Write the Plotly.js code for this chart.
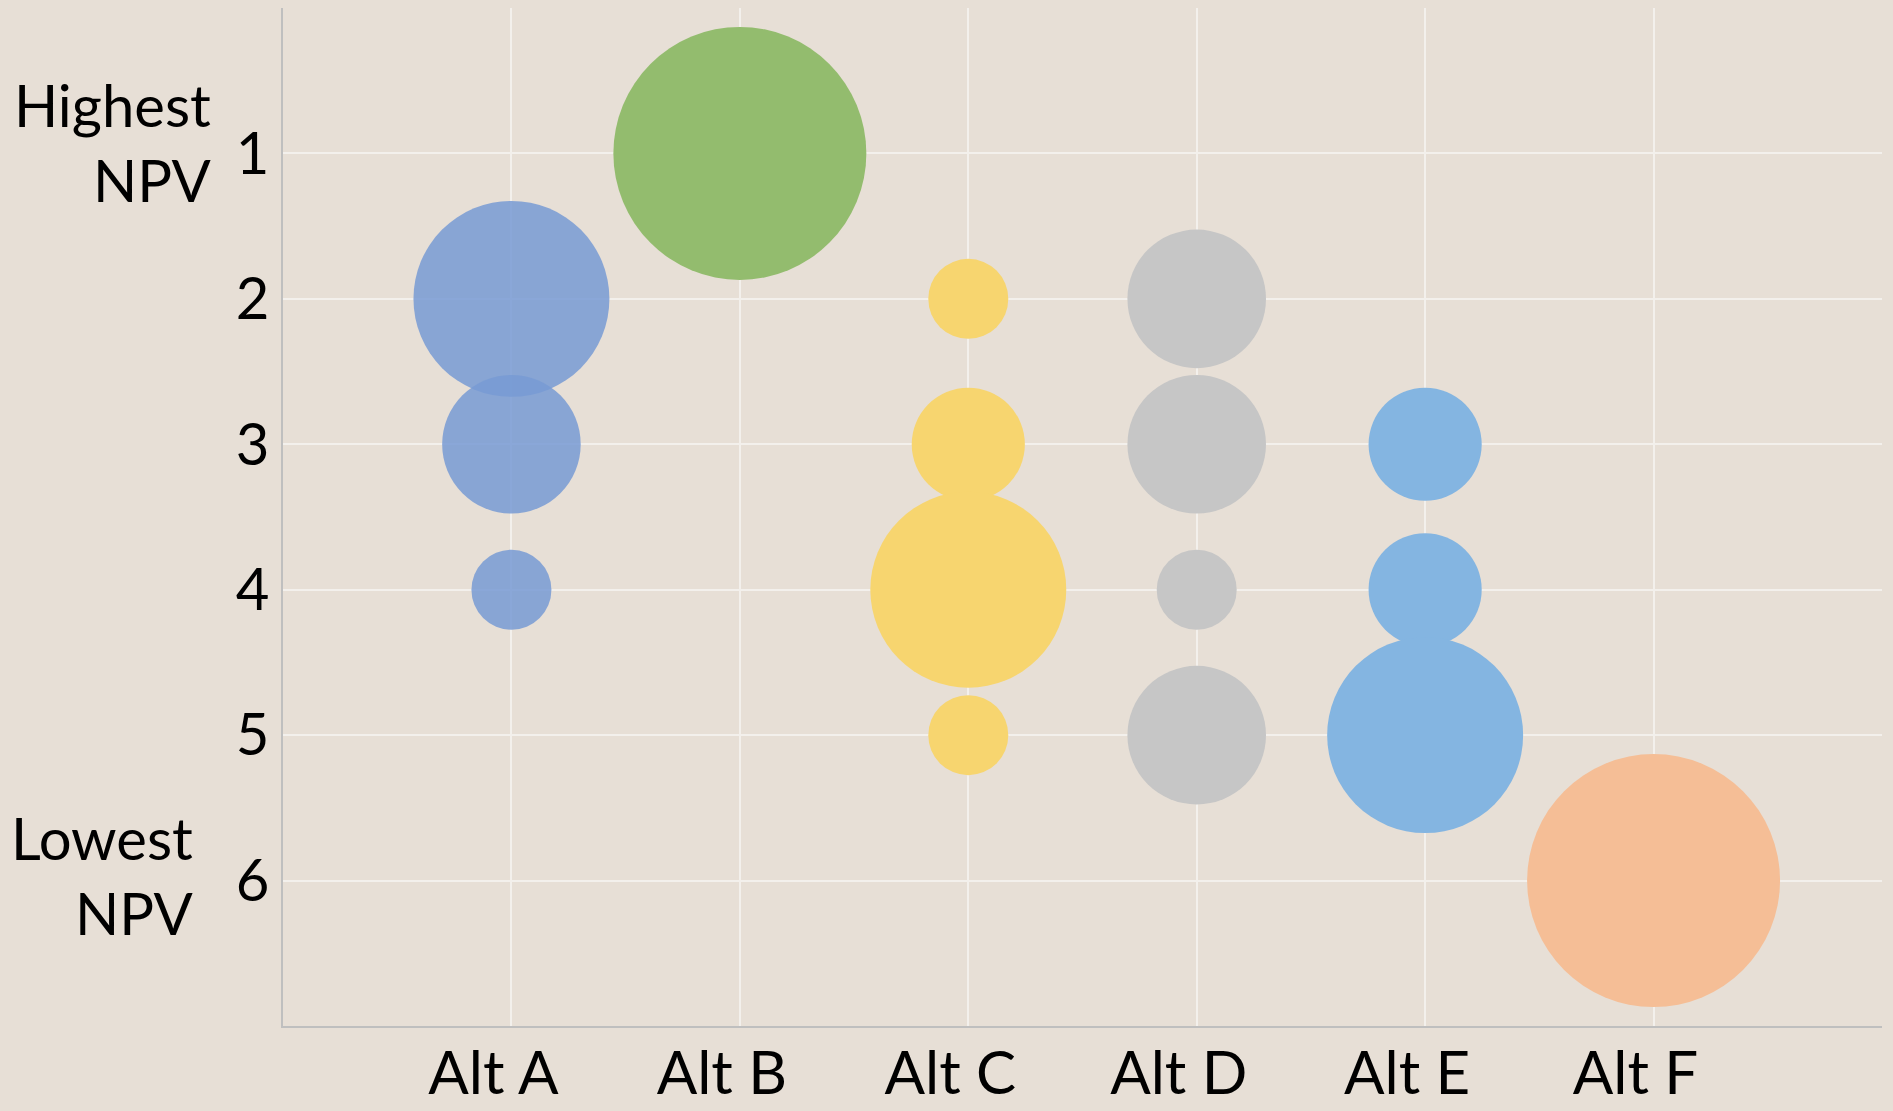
<!DOCTYPE html>
<html>
<head>
<meta charset="utf-8">
<script src="https://cdn.plot.ly/plotly-3.0.1.min.js"></script>
<style>
  html, body { margin: 0; padding: 0; background: #e7dfd6; }
  #chart { width: 1893px; height: 1111px; }
</style>
</head>
<body>
<div id="chart"></div>
<script>
// Categories (alternatives) and rank tick labels
const categories = ['Alt A', 'Alt B', 'Alt C', 'Alt D', 'Alt E', 'Alt F'];
const rankTicks = [1, 2, 3, 4, 5, 6];

// NPV rank of each bubble (1 = highest NPV) and relative bubble size, per alternative
const altA_rank = [2, 3, 4];
const altA_size = [6, 3, 1];
const altB_rank = [1];
const altB_size = [10];
const altC_rank = [2, 3, 4, 5];
const altC_size = [1, 2, 6, 1];
const altD_rank = [2, 3, 4, 5];
const altD_size = [3, 3, 1, 3];
const altE_rank = [3, 4, 5];
const altE_size = [2, 2, 6];
const altF_rank = [6];
const altF_size = [10];

const series = [
  { name: 'Alt A', rank: altA_rank, size: altA_size, color: 'rgba(120,155,212,0.86)' },
  { name: 'Alt B', rank: altB_rank, size: altB_size, color: '#93bc6e' },
  { name: 'Alt C', rank: altC_rank, size: altC_size, color: '#f7d56f' },
  { name: 'Alt D', rank: altD_rank, size: altD_size, color: '#c6c6c6' },
  { name: 'Alt E', rank: altE_rank, size: altE_size, color: '#84b5e1' },
  { name: 'Alt F', rank: altF_rank, size: altF_size, color: '#f5be96' }
];

const traces = series.map(s => {
  const xi = categories.indexOf(s.name) + 1;
  return {
    type: 'scatter',
    mode: 'markers',
    name: s.name,
    x: s.rank.map(() => xi),
    y: s.rank,
    marker: {
      size: s.size,
      sizemode: 'area',
      sizeref: 1 / 3200,
      color: s.color,
      opacity: 1,
      line: { width: 0 }
    },
    hoverinfo: 'x+y'
  };
});

const tickFont = { family: 'Lato, "Open Sans", sans-serif', color: '#000000' };

const layout = {
  width: 1893,
  height: 1111,
  paper_bgcolor: '#e7dfd6',
  plot_bgcolor: '#e7dfd6',
  showlegend: false,
  margin: { l: 283, r: 11, t: 8, b: 85, pad: 0 },
  xaxis: {
    range: [0, 7],
    tickmode: 'array',
    tickvals: [0].concat(categories.map((c, i) => i + 1), [7]),
    ticktext: [''].concat(categories, ['']),
    showgrid: true,
    gridcolor: '#f3f0ec',
    gridwidth: 1.5,
    zeroline: false,
    showline: true,
    linecolor: '#bfbfbf',
    linewidth: 2,
    ticks: '',
    ticklabelshift: -18,
    ticklabelstandoff: -6,
    tickfont: Object.assign({ size: 60 }, tickFont)
  },
  yaxis: {
    range: [7, 0],
    tickmode: 'array',
    tickvals: [0].concat(rankTicks, [7]),
    ticktext: [''].concat(rankTicks.map(String), ['']),
    showgrid: true,
    gridcolor: '#f3f0ec',
    gridwidth: 1.5,
    zeroline: false,
    showline: true,
    linecolor: '#bfbfbf',
    linewidth: 2,
    ticks: '',
    ticklabelstandoff: 0,
    tickfont: Object.assign({ size: 58 }, tickFont)
  },
  annotations: [
    {
      text: 'Highest<br>NPV',
      xref: 'paper', yref: 'y',
      x: -0.043, y: 0.92,
      xanchor: 'right', yanchor: 'middle',
      align: 'right',
      showarrow: false,
      font: Object.assign({ size: 58 }, tickFont)
    },
    {
      text: 'Lowest<br>NPV',
      xref: 'paper', yref: 'y',
      x: -0.0543, y: 5.96,
      xanchor: 'right', yanchor: 'middle',
      align: 'right',
      showarrow: false,
      font: Object.assign({ size: 58 }, tickFont)
    }
  ]
};

Plotly.newPlot('chart', traces, layout, { displayModeBar: false, responsive: false });
</script>
</body>
</html>
